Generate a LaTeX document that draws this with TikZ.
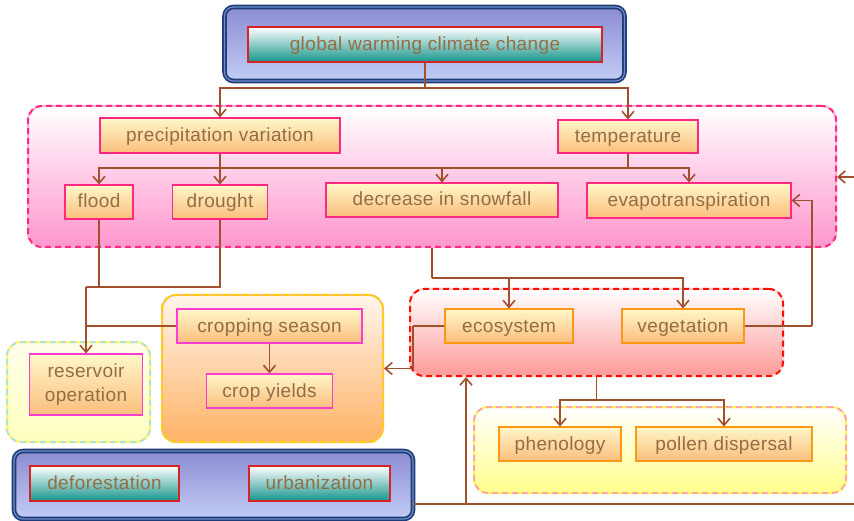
\documentclass[tikz,border=0pt]{standalone}
\usepackage{fontspec}
\setmainfont{Liberation Sans}
\newfontfamily\labfont[LetterSpace=2]{Liberation Sans}
\usetikzlibrary{arrows.meta}
\definecolor{conncol}{RGB}{160,80,45}
\definecolor{txtcol}{RGB}{150,108,68}
\definecolor{otop}{RGB}{255,247,200}
\definecolor{obot}{RGB}{250,190,125}
\definecolor{pinkbd}{RGB}{255,40,130}
\definecolor{magbd}{RGB}{255,60,210}
\definecolor{orbd}{RGB}{255,150,20}
\definecolor{navy}{RGB}{30,60,120}
\definecolor{navyin}{RGB}{110,140,200}
\definecolor{btop}{RGB}{140,140,210}
\definecolor{bmid}{RGB}{215,222,255}
\definecolor{bbot}{RGB}{195,205,245}
\definecolor{tealb}{RGB}{22,150,140}
\definecolor{tealm}{RGB}{215,240,236}
\definecolor{tealbd}{RGB}{215,35,40}
\definecolor{pinkfill}{RGB}{255,150,205}
\definecolor{pinkline}{RGB}{255,175,210}
\begin{document}
\begin{tikzpicture}[x=1pt,y=-1pt,
  lab/.style={font=\labfont\fontsize{19}{24}\selectfont, text=txtcol, inner sep=0pt, align=center},
  oneline/.style={text height=15pt, text depth=3pt},
  onode/.style={lab, draw=#1, line width=1.1pt, top color=otop, bottom color=obot},
  tnode/.style={lab, oneline, draw=tealbd, line width=1.1pt, top color=white, middle color=tealm, bottom color=tealb},
  bluebox/.style={rounded corners=9pt, draw=navy, line width=1.7pt, double=navyin, double distance=1.2pt, top color=btop, middle color=bmid, bottom color=bbot},
  cont/.style n args={4}{rounded corners=14pt, line width=2pt, draw=#1, top color=#3, bottom color=#4,
      postaction={draw=#2, line width=2pt, dash pattern=on 6pt off 4pt}},
  conn/.style={draw=conncol, line width=1.5pt},
  arr/.style={conn, -{Straight Barb[length=7pt,width=12pt,line width=1.6pt]}},
]
\useasboundingbox (0,0) rectangle (854,521);

% containers
\node[bluebox, minimum width=400, minimum height=74] (topbox) at (424.5,44) {};
\node[cont={pinkline}{pinkbd}{white}{pinkfill}, minimum width=808, minimum height=141] (pinkbox) at (432,176.5) {};
\node[cont={yellow!60}{cyan!35!green!30}{yellow!8}{yellow!25}, minimum width=143, minimum height=100] (resbox) at (78.5,392) {};
\node[cont={orange!55}{yellow!70!orange}{orange!8}{orange!60}, minimum width=221, minimum height=147] (cropbox) at (272.5,368.5) {};
\node[cont={pink!80}{red!90!orange}{white}{red!40}, minimum width=373, minimum height=87] (redbox) at (596.5,332.5) {};
\node[cont={yellow!70}{red!35}{white}{yellow!45}, minimum width=372, minimum height=86] (yelbox) at (660,450) {};
\node[bluebox, minimum width=399, minimum height=68] (botbox) at (213.5,485) {};

% nodes
\node[tnode, minimum width=354, minimum height=35] (gw) at (425,44.5) {global warming climate change};
\node[onode=pinkbd, oneline, minimum width=240, minimum height=35] (prec) at (220,135.5) {precipitation variation};
\node[onode=pinkbd, oneline, minimum width=140, minimum height=33] (temp) at (628,136.5) {temperature};
\node[onode=pinkbd, oneline, minimum width=68, minimum height=34] (flood) at (99,202) {flood};
\node[onode=pinkbd, oneline, minimum width=95, minimum height=34] (drought) at (220,202) {drought};
\node[onode=pinkbd, oneline, minimum width=232, minimum height=34] (snow) at (442,200) {decrease in snowfall};
\node[onode=pinkbd, oneline, minimum width=204, minimum height=35] (evap) at (689,200.5) {evapotranspiration};
\node[onode=magbd, minimum width=113, minimum height=61] (res) at (86,384.5) {reservoir\\operation};
\node[onode=magbd, oneline, minimum width=185, minimum height=34] (cseason) at (269.5,326) {cropping season};
\node[onode=magbd, oneline, minimum width=126, minimum height=34] (cyield) at (269.5,391) {crop yields};
\node[onode=orbd, oneline, minimum width=128, minimum height=34] (eco) at (509,326) {ecosystem};
\node[onode=orbd, oneline, minimum width=122, minimum height=34] (veg) at (683,326) {vegetation};
\node[onode=orbd, oneline, minimum width=122, minimum height=34] (phen) at (560,444) {phenology};
\node[onode=orbd, oneline, minimum width=176, minimum height=34] (pollen) at (724,444) {pollen dispersal};
\node[tnode, minimum width=149, minimum height=35] (defor) at (104.5,483.5) {deforestation};
\node[tnode, minimum width=141, minimum height=35] (urban) at (319.5,483.5) {urbanization};

% helper coordinates
\coordinate (j1) at (425,88);
\coordinate (j2) at (220,168);
\coordinate (j3) at (628,168);
\coordinate (j4) at (86,287);
\coordinate (j5) at (432,278);
\coordinate (j6) at (596.5,400);
\coordinate (j7) at (812,326);
\coordinate (j8) at (413,326);
\coordinate (b1) at (414,504);
\coordinate (b2) at (466,504);
\coordinate (edgeB) at (854,504);
\coordinate (edgeR) at (854,177);

% connectors
\draw[conn] (gw.south) -- (j1);
\draw[arr] (j1) -| (prec.north);
\draw[arr] (j1) -| (temp.north);
\draw[conn] (prec.south) -- (j2);
\draw[arr] (j2) -| (flood.north);
\draw[arr] (j2) -- (drought.north);
\draw[arr] (j2) -| (snow.north);
\draw[conn] (temp.south) -- (j3);
\draw[conn] (j3) -| (snow.north);
\draw[arr] (j3) -| (evap.north);
\draw[conn] (flood.south) |- (j4);
\draw[conn] (drought.south) |- (j4);
\draw[arr] (j4) -- (res.north);
\draw[conn] (cseason.west) -- (cseason.west -| res.north);
\draw[arr] (cseason.south) -- (cyield.north);
\draw[conn] (pinkbox.south) -- (j5);
\draw[arr] (j5) -| (eco.north);
\draw[arr] (j5) -| (veg.north);
\draw[conn] (redbox.south) -- (j6);
\draw[arr] (j6) -| (phen.north);
\draw[arr] (j6) -| (pollen.north);
\draw[conn] (veg.east) -- (j7);
\draw[arr] (j7) |- (evap.east);
\draw[conn] (eco.west) -- (j8);
\draw[arr] (j8) |- (cropbox.east);
\draw[conn] (b1) -- (edgeB);
\draw[arr] (b2) -- (b2 |- redbox.south);
\draw[arr] (edgeR) -- (edgeR -| pinkbox.east);
\end{tikzpicture}
\end{document}
